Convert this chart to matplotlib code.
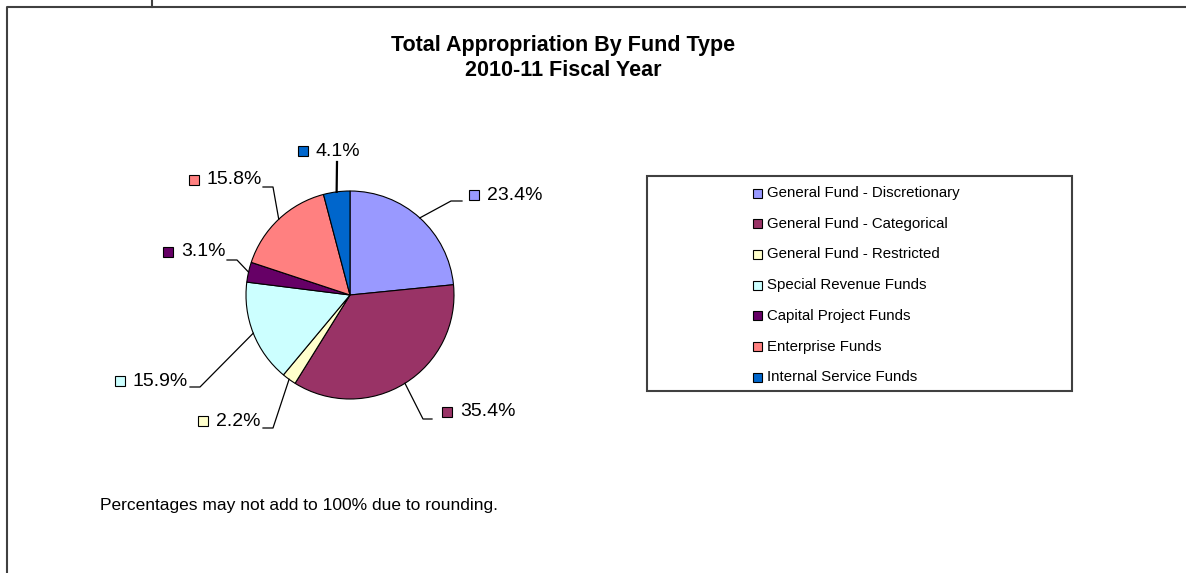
import matplotlib
matplotlib.use("Agg")
import matplotlib.pyplot as plt
from matplotlib.patches import Rectangle
import numpy as np

plt.rcParams['font.family'] = ['Liberation Sans', 'DejaVu Sans']

title_lines = ["Total Appropriation By Fund Type", "2010-11 Fiscal Year"]
categories = ["General Fund - Discretionary", "General Fund - Categorical",
              "General Fund - Restricted", "Special Revenue Funds",
              "Capital Project Funds", "Enterprise Funds", "Internal Service Funds"]
shares = [23.4, 35.4, 2.2, 15.9, 3.1, 15.8, 4.1]
colors = ["#9999FF", "#993366", "#FFFFCC", "#CCFFFF", "#660066", "#FF8080", "#0066CC"]
footnote = "Percentages may not add to 100% due to rounding."

W, H = 1186, 573
fig = plt.figure(figsize=(W / 100, H / 100), dpi=100)
ax = fig.add_axes([0, 0, 1, 1])

# pie in pixel space (y grows downward, so counterclock in data = clockwise on screen)
cx, cy, r = 350, 295, 104
wedges, _ = ax.pie(shares, colors=colors, startangle=-90, counterclock=True,
                   center=(cx, cy), radius=r,
                   wedgeprops=dict(edgecolor="black", linewidth=0.8))
ax.set_xlim(0, W)
ax.set_ylim(H, 0)
ax.set_aspect('equal')
ax.axis('off')

# outer chart frame
frame_c = "#404040"
ax.plot([7, 7, W + 5], [H + 5, 7, 7], color=frame_c, lw=1.5, solid_capstyle='butt')
ax.plot([152, 152], [0, 7], color=frame_c, lw=1.5)

# title
ax.text(563, 45, title_lines[0], ha='center', va='center', fontsize=15.5,
        fontweight='bold')
ax.text(563, 70, title_lines[1], ha='center', va='center', fontsize=15.5,
        fontweight='bold')

# data labels: (marker x, label y, elbow, line end)
label_layout = [
    (474, 195, (451, 201), (462, 201)),
    (447, 412, (423, 419), (432, 419)),
    (203, 421, (273, 428), (263, 428)),
    (120, 381, (200, 387), (190, 387)),
    (168, 252, (237, 260), (227, 260)),
    (194, 180, (273, 187), (263, 187)),
    (303, 151, (337, 162), (337, 162)),
]
msz = 10
for w, val, col, (mx, ly, elbow, end) in zip(wedges, shares, colors, label_layout):
    mid = np.deg2rad((w.theta1 + w.theta2) / 2)
    ex, ey = cx + r * np.cos(mid), cy + r * np.sin(mid)
    lw = 1.6 if elbow == end else 0.9
    ax.plot([ex, elbow[0], end[0]], [ey, elbow[1], end[1]], color="black", lw=lw)
    ax.add_patch(Rectangle((mx - msz / 2, ly - msz / 2), msz, msz, facecolor=col,
                           edgecolor="black", lw=0.8))
    ax.text(mx + 13, ly, f"{val:.1f}%", ha='left', va='center', fontsize=14)

# legend
ax.add_patch(Rectangle((647, 176), 1072 - 647, 391 - 176, facecolor="white",
                       edgecolor=frame_c, lw=1.5))
for i, (name, col) in enumerate(zip(categories, colors)):
    y = 193 + i * 30.7
    ax.add_patch(Rectangle((753, y - 4.5), 9, 9, facecolor=col, edgecolor="black",
                           lw=0.8))
    ax.text(767, y, name, ha='left', va='center', fontsize=10.8)

ax.text(100, 510, footnote, ha='left', va='baseline', fontsize=12.5)

fig.savefig("out.png", dpi=100)
